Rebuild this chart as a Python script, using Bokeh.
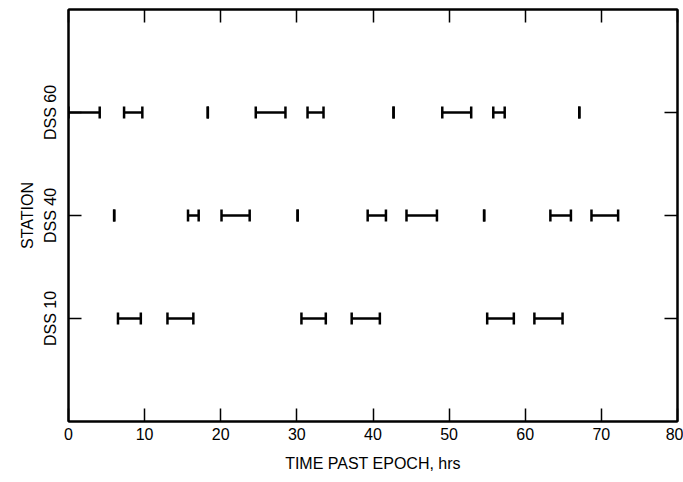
import math
from bokeh.plotting import figure
from bokeh.models import ColumnDataSource, FixedTicker, LinearAxis, Range1d
from bokeh.embed import file_html
from bokeh.resources import INLINE

# ---- data ----
stations = ["DSS 10", "DSS 40", "DSS 60"]
station_pos = [1, 2, 3]

# tracking passes (start, end) in hours past epoch; start == end is a single short pass
dss10_start = [6.5, 13.0, 30.6, 37.2, 55.0, 61.2]
dss10_end = [9.5, 16.4, 33.8, 40.9, 58.5, 64.9]

dss40_start = [6.0, 15.7, 20.1, 30.1, 39.3, 44.4, 54.6, 63.3, 68.7]
dss40_end = [6.0, 17.1, 23.8, 30.1, 41.7, 48.4, 54.6, 66.0, 72.2]

dss60_start = [0.0, 7.3, 18.3, 24.6, 31.4, 42.7, 49.1, 55.8, 67.1]
dss60_end = [4.1, 9.7, 18.3, 28.5, 33.5, 42.7, 52.9, 57.3, 67.1]

x_ticks = [0, 10, 20, 30, 40, 50, 60, 70, 80]

# ---- build source ----
xs0, xs1, ys = [], [], []
for pos, s, e in zip(station_pos, [dss10_start, dss40_start, dss60_start],
                     [dss10_end, dss40_end, dss60_end]):
    xs0 += s
    xs1 += e
    ys += [pos] * len(s)
src = ColumnDataSource(dict(x0=xs0, x1=xs1, y=ys))

FONT = "Liberation Sans"

p = figure(frame_width=609, frame_height=412,
           x_range=Range1d(0, 80), y_range=Range1d(0, 4),
           output_backend="svg", toolbar_location=None,
           min_border_left=68, min_border_right=6, min_border_top=9,
           min_border_bottom=61, x_axis_location=None, y_axis_location=None)
p.background_fill_color = "white"
p.border_fill_color = "white"
p.grid.visible = False
p.outline_line_color = "black"
p.outline_line_width = 2

# bars
p.segment(x0="x0", y0="y", x1="x1", y1="y", source=src,
          line_color="black", line_width=2.5)
p.scatter(x="x0", y="y", source=src, marker="dash", angle=math.pi / 2,
          size=12, line_color="black", line_width=2.5)
p.scatter(x="x1", y="y", source=src, marker="dash", angle=math.pi / 2,
          size=12, line_color="black", line_width=2.5)


def style(ax):
    ax.axis_line_color = "black"
    ax.axis_line_width = 2
    ax.major_tick_in = 13
    ax.major_tick_out = 0
    ax.minor_tick_line_color = None
    ax.major_tick_line_color = "black"
    ax.major_tick_line_width = 1.5
    ax.major_label_text_font = FONT
    ax.major_label_text_font_size = "16px"
    ax.major_label_text_color = "black"
    ax.axis_label_text_font = FONT
    ax.axis_label_text_font_size = "16px"
    ax.axis_label_text_font_style = "normal"
    ax.axis_label_text_color = "black"


xb = LinearAxis(ticker=FixedTicker(ticks=x_ticks), axis_label="TIME PAST EPOCH, hrs")
style(xb)
xb.major_label_standoff = 6
xb.axis_label_standoff = 12
p.add_layout(xb, "below")

xt = LinearAxis(ticker=FixedTicker(ticks=x_ticks))
style(xt)
xt.major_label_overrides = {t: "" for t in x_ticks}
xt.major_label_standoff = 0
p.add_layout(xt, "above")

yl = LinearAxis(ticker=FixedTicker(ticks=station_pos), axis_label="STATION")
style(yl)
yl.major_label_overrides = {pos: name for pos, name in zip(station_pos, stations)}
yl.major_label_orientation = "vertical"
yl.major_label_standoff = 10
yl.axis_label_standoff = 3
p.add_layout(yl, "left")

yr = LinearAxis(ticker=FixedTicker(ticks=station_pos))
style(yr)
yr.major_label_overrides = {pos: "" for pos in station_pos}
yr.major_label_standoff = 0
p.add_layout(yr, "right")

open("out.html", "w").write(file_html(p, INLINE))
